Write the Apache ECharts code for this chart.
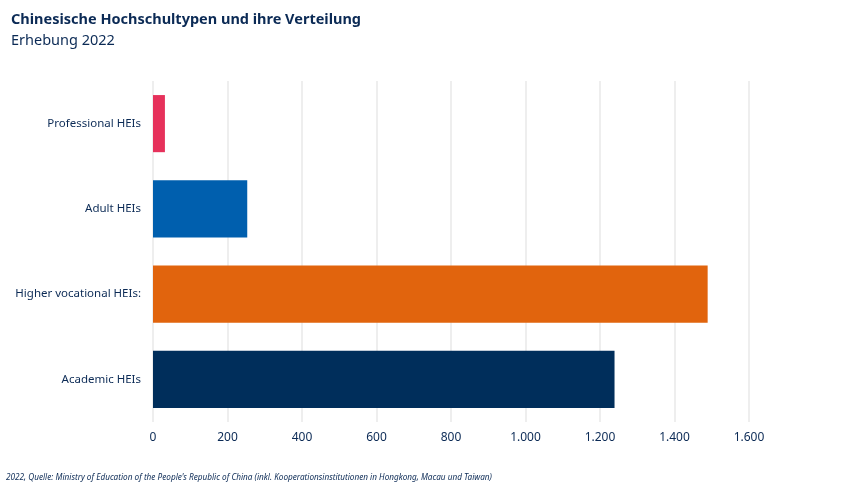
<!DOCTYPE html>
<html><head><meta charset="utf-8">
<script src="https://cdn.jsdelivr.net/npm/echarts@6/dist/echarts.min.js"></script>
<style>html,body{margin:0;padding:0;background:#fff}#c{width:864px;height:486px}</style>
</head><body><div id="c"></div>
<script>
const categories = ["Professional HEIs", "Adult HEIs", "Higher vocational HEIs:", "Academic HEIs"];
const values = [32, 253, 1489, 1239];
const barColors = ["#e6315b", "#005fae", "#e1640d", "#002e5b"];
const xTicks = { min: 0, max: 1600, interval: 200 };

const navy = "#0b2a55";
const chart = echarts.init(document.getElementById('c'));
chart.setOption({
  animation: false,
  title: [
    { text: "Chinesische Hochschultypen und ihre Verteilung", left: 6, top: 7, padding: 5,
      textStyle: { fontFamily: "Noto Sans", fontSize: 14.5, fontWeight: "bold", color: navy } },
    { text: "Erhebung 2022", left: 6, top: 28, padding: 5,
      textStyle: { fontFamily: "Noto Sans", fontSize: 14.5, fontWeight: "normal", color: navy } },
    { text: "2022, Quelle: Ministry of Education of the People's Republic of China (inkl. Kooperationsinstitutionen in Hongkong, Macau und Taiwan)",
      left: 1, top: 469, padding: 5,
      textStyle: { fontFamily: "Noto Sans", fontSize: 8.2, fontStyle: "italic", fontWeight: "normal", color: navy } }
  ],
  grid: { left: 153, right: 115, top: 81, bottom: 64, containLabel: false },
  xAxis: {
    type: "value", min: xTicks.min, max: xTicks.max, interval: xTicks.interval,
    axisLine: { show: false }, axisTick: { show: false },
    splitLine: { show: true, lineStyle: { color: "#e8e8e8", width: 1.5 } },
    axisLabel: { color: navy, fontFamily: "Noto Sans", fontSize: 12, margin: 10,
      formatter: v => v.toString().replace(/\B(?=(\d{3})+(?!\d))/g, ".") }
  },
  yAxis: {
    type: "category", data: categories, inverse: true,
    axisLine: { show: false }, axisTick: { show: false },
    axisLabel: { color: navy, fontFamily: "Noto Sans", fontSize: 11.5, margin: 12 }
  },
  series: [{
    type: "bar", barWidth: "67%",
    data: values.map((v, i) => ({ value: v, itemStyle: { color: barColors[i] } })),
    itemStyle: { borderWidth: 0 }
  }]
});
</script></body></html>
